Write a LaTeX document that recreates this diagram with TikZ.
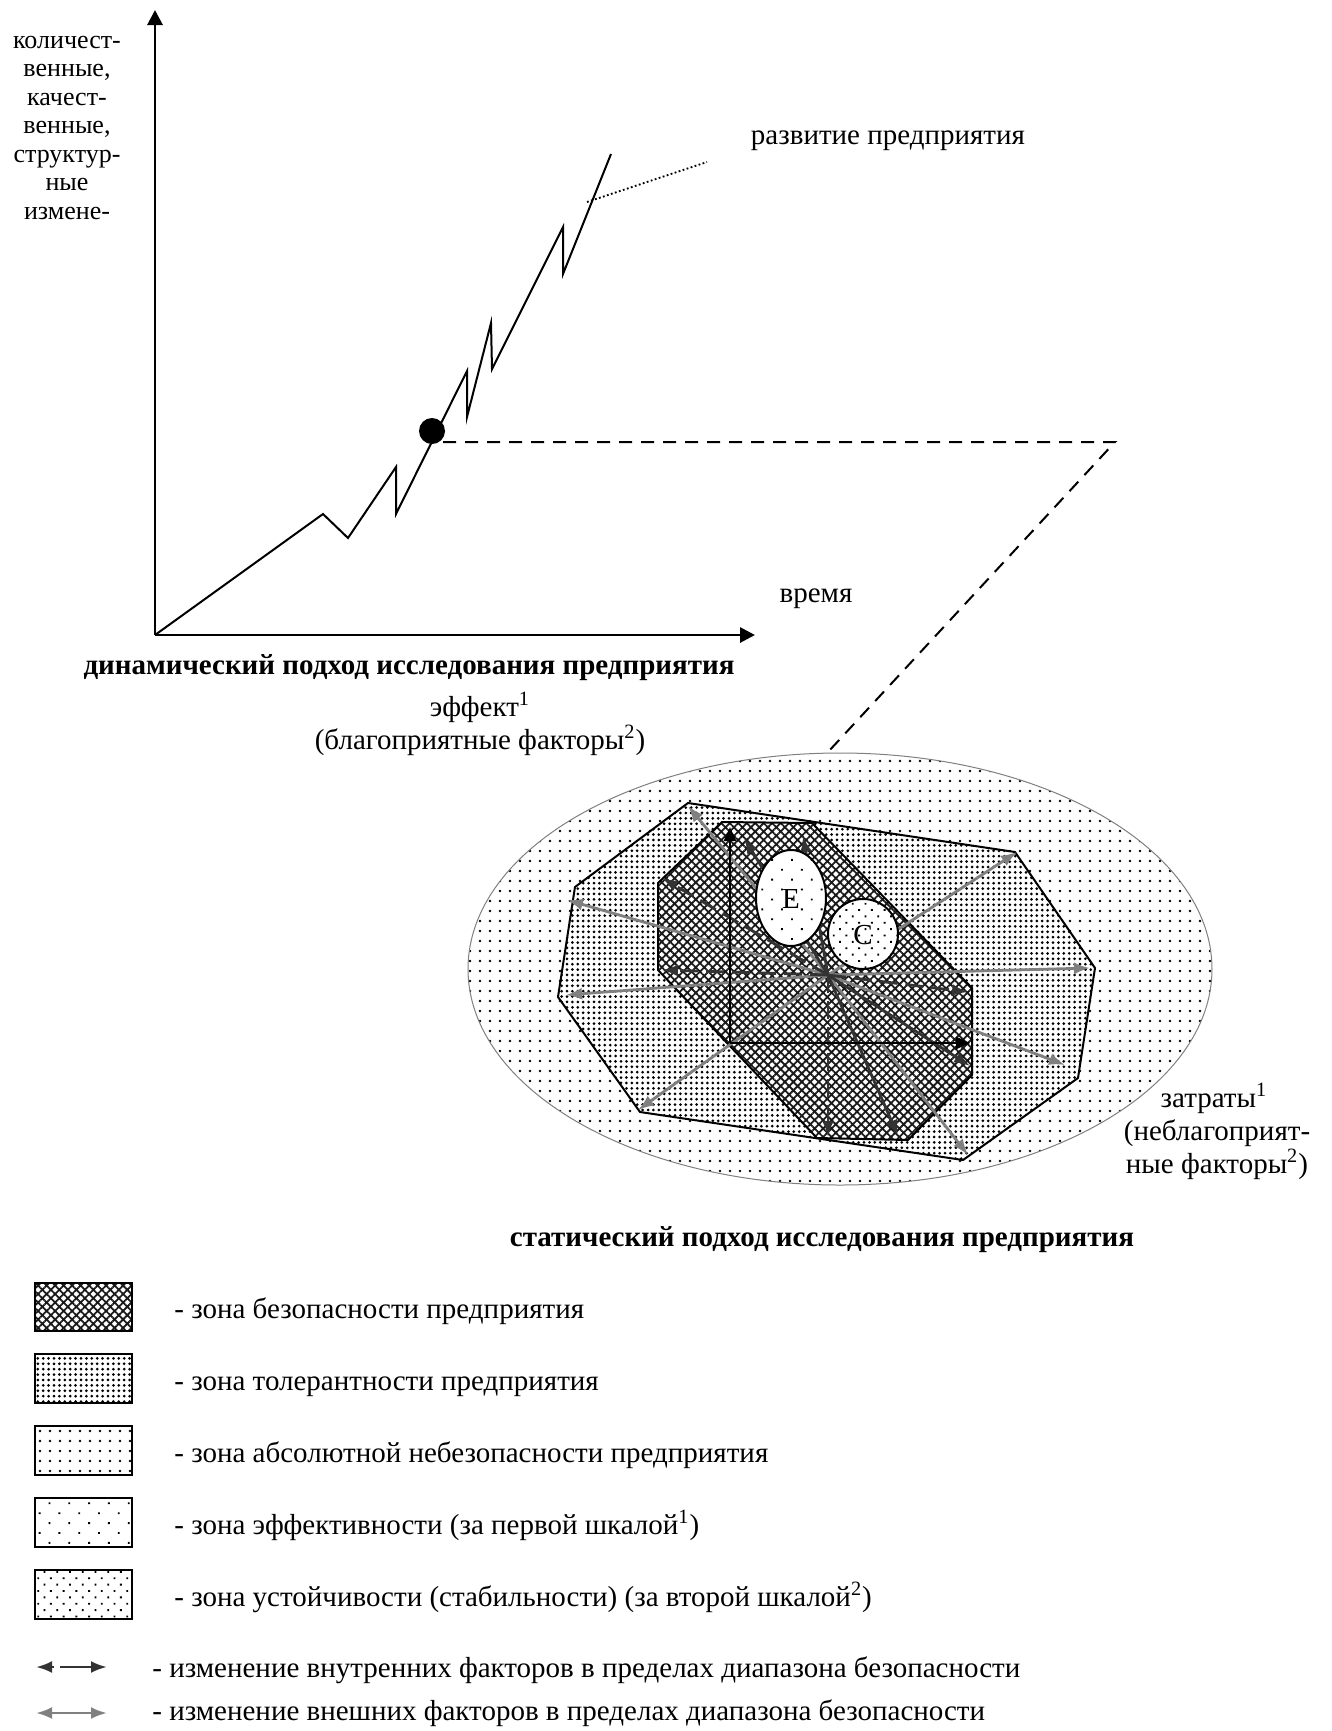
\documentclass[tikz,border=0pt]{standalone}
\usepackage{fontspec}
\setmainfont{Liberation Serif}
\usetikzlibrary{arrows.meta,patterns.meta}
\definecolor{darkarrow}{gray}{0.2}
\definecolor{grayarrow}{gray}{0.5}
\begin{document}
\begin{tikzpicture}[x=0.5pt,y=-0.5pt,
  lbl/.style={font=\fontsize{14.5}{16}\selectfont, inner sep=0pt, anchor=base},
  lblw/.style={font=\fontsize{14.5}{16}\selectfont, inner sep=0pt, anchor=base west},
  vlbl/.style={font=\fontsize{13}{14}\selectfont, inner sep=0pt, anchor=base},
  ttl/.style={font=\fontsize{14.5}{16}\selectfont\bfseries, inner sep=0pt, anchor=base},
  axisline/.style={line width=1.4pt, -{Triangle[length=7.5pt,width=7.5pt]}},
  curve/.style={line width=1pt, line join=miter},
  linkdash/.style={line width=1pt, dash pattern=on 6.5pt off 4.5pt},
  safezone/.style={preaction={fill=white}, pattern={Hatch[angle=45,distance=3pt,line width=0.9pt]}, pattern color=black!90},
  tolzone/.style={preaction={fill=white}, pattern={Dots[distance=2.7pt,radius=0.75pt]}, pattern color=black},
  abszone/.style={preaction={fill=white}, pattern={Dots[distance=5pt,radius=0.7pt]}, pattern color=black},
  effzone/.style={preaction={fill=white}, pattern={Dots[distance=7pt,radius=0.65pt,angle=45]}, pattern color=black},
  stabzone/.style={preaction={fill=white}, pattern={Dots[distance=4.5pt,radius=0.65pt,angle=45]}, pattern color=black},
  zoneedge/.style={draw=black, line width=1pt, line join=miter},
  grayarr/.style={draw=grayarrow, line width=1.4pt, -{Latex[length=8pt,width=6pt]}},
  darkarr/.style={draw=darkarrow, line width=1.4pt, -{Latex[length=8pt,width=6pt]}},
  darkdash/.style={darkarr, dash pattern=on 9pt off 4pt},
  innerax/.style={line width=1.3pt, -{Triangle[length=7pt,width=6pt]}},
  legbox/.style={draw=black, line width=1.1pt}
]
\fill[white] (0,0) rectangle (1332,1731);
\useasboundingbox (0,0) rectangle (1332,1731);

% ---------------- dynamic chart ----------------
\coordinate (O) at (155,635);
\coordinate (Ytip) at (155,10);
\coordinate (Xtip) at (755,635);
\draw[axisline] (O) -- (Ytip);
\draw[axisline] (O) -- (Xtip);

\coordinate (p1) at (323,514);
\coordinate (v1) at (348,538);
\coordinate (p2) at (396,467);
\coordinate (v2) at (396,514);
\coordinate (p3) at (467,371);
\coordinate (v3) at (467,417);
\coordinate (p4) at (491,323);
\coordinate (v4) at (492,369);
\coordinate (p5) at (563,227);
\coordinate (v5) at (563,274);
\coordinate (pend) at (611,154);
\draw[curve] (O) -- (p1) -- (v1) -- (p2) -- (v2) -- (p3) -- (v3) -- (p4) -- (v4) -- (p5) -- (v5) -- (pend);

\node[circle, fill=black, minimum size=13pt, inner sep=0pt] (dot) at (432,431) {};

\coordinate (dotA) at (587,202);
\coordinate (dotB) at (707,162);
\draw[line width=0.9pt, dash pattern=on 0.9pt off 1.2pt] (dotA) -- (dotB);

\node[lbl] (dev) at (888,144) {развитие предприятия};
\node[lbl] (time) at (816,602) {время};

\node[vlbl] (y1) at (67,48) {количест-};
\node[vlbl] (y2) at (67,76.5) {венные,};
\node[vlbl] (y3) at (67,105) {качест-};
\node[vlbl] (y4) at (67,133.5) {венные,};
\node[vlbl] (y5) at (67,162) {структур-};
\node[vlbl] (y6) at (67,190.5) {ные};
\node[vlbl] (y7) at (67,219) {измене-};

\node[ttl] (dyn) at (409,674) {динамический подход исследования предприятия};

% link from dot to static diagram
\coordinate (lk1) at (443,442);
\coordinate (lk2) at (1115,442);
\coordinate (lk3) at (828,752);
\draw[linkdash] (lk1) -- (lk2) -- (lk3);

\node[lbl] (eff1) at (480,716) {эффект\textsuperscript{1}};
\node[lbl] (eff2) at (480,749) {(благоприятные факторы\textsuperscript{2})};

% ---------------- static diagram ----------------
\path[abszone] (840,969) ellipse [x radius=372, y radius=216];
\draw[grayarrow, line width=0.5pt] (840,969) ellipse [x radius=372, y radius=216];

\path[tolzone] (688,803) -- (575,887) -- (558,997) -- (640,1112) -- (963,1160) -- (1078,1078) -- (1095,968) -- (1015,852) -- cycle;
\draw[zoneedge] (688,803) -- (575,887) -- (558,997) -- (640,1112) -- (963,1160) -- (1078,1078) -- (1095,968) -- (1015,852) -- cycle;

\path[safezone] (722,822) -- (812,823) -- (972,988) -- (972,1075) -- (908,1140) -- (817,1138) -- (658,970) -- (658,883) -- cycle;
\draw[zoneedge] (722,822) -- (812,823) -- (972,988) -- (972,1075) -- (908,1140) -- (817,1138) -- (658,970) -- (658,883) -- cycle;

\coordinate (hub) at (828,975);
% external factors
\coordinate (g1) at (688,806);
\coordinate (g2) at (567,900);
\coordinate (g3) at (566,995);
\coordinate (g4) at (638,1110);
\coordinate (g5) at (1017,852);
\coordinate (g6) at (1090,968);
\coordinate (g7) at (1065,1065);
\coordinate (g8) at (968,1155);
\foreach \g in {g1,g2,g3,g4,g5,g6,g7,g8} \draw[grayarr] (hub) -- (\g);
% internal factors
\coordinate (d1) at (662,970);
\coordinate (d2) at (968,992);
\coordinate (d3) at (828,1137);
\coordinate (d4) at (898,1136);
\coordinate (d5) at (970,1066);
\coordinate (d6) at (662,878);
\coordinate (d7) at (803,836);
\coordinate (d8) at (744,838);
\draw[darkdash] (hub) -- (d1);
\draw[darkdash] (hub) -- (d2);
\draw[darkdash] (hub) -- (d3);
\draw[darkarr] (hub) -- (d4);
\draw[darkarr] (hub) -- (d5);
\draw[darkdash] (hub) -- (d6);
\draw[darkarr] (hub) -- (d7);
\draw[darkarr] (hub) -- (d8);

% inner axes
\coordinate (ia) at (730,1043);
\coordinate (iy) at (730,827);
\coordinate (ix) at (970,1043);
\draw[innerax] (ia) -- (iy);
\draw[innerax] (ia) -- (ix);

% E and C
\path[effzone] (791,898) ellipse [x radius=35, y radius=48];
\draw[line width=1pt] (791,898) ellipse [x radius=35, y radius=48];
\node[lbl] (E) at (791,908) {E};
\path[stabzone] (863,934) circle [radius=35];
\draw[line width=1pt] (863,934) circle [radius=35];
\node[lbl] (C) at (863,944) {C};

\node[lbl] (cost1) at (1214,1107) {затраты\textsuperscript{1}};
\node[lbl] (cost2) at (1217,1140) {(неблагоприят-};
\node[lbl] (cost3) at (1217,1173) {ные факторы\textsuperscript{2})};

\node[ttl] (stat) at (822,1246) {статический подход исследования предприятия};

% ---------------- legend ----------------
\path[safezone] (35,1283) rectangle (132,1331);
\draw[legbox] (35,1283) rectangle (132,1331);
\path[tolzone] (35,1354) rectangle (132,1403);
\draw[legbox] (35,1354) rectangle (132,1403);
\path[abszone] (35,1426) rectangle (132,1475);
\draw[legbox] (35,1426) rectangle (132,1475);
\path[effzone] (35,1498) rectangle (132,1547);
\draw[legbox] (35,1498) rectangle (132,1547);
\path[stabzone] (35,1570) rectangle (132,1619);
\draw[legbox] (35,1570) rectangle (132,1619);

\node[lblw] (l1) at (174,1318) {- зона безопасности предприятия};
\node[lblw] (l2) at (174,1390) {- зона толерантности предприятия};
\node[lblw] (l3) at (174,1462) {- зона абсолютной небезопасности предприятия};
\node[lblw] (l4) at (174,1534) {- зона эффективности (за первой шкалой\textsuperscript{1})};
\node[lblw] (l5) at (174,1606) {- зона устойчивости (стабильности) (за второй шкалой\textsuperscript{2})};

\coordinate (a1l) at (36,1667);
\coordinate (a1m) at (54,1667);
\coordinate (a1s) at (60,1667);
\coordinate (a1r) at (107,1667);
\draw[darkarr, -{Latex[length=8pt,width=6pt]}] (a1m) -- (a1l);
\draw[darkarr, -{Latex[length=8pt,width=6pt]}] (a1s) -- (a1r);
\coordinate (a2l) at (36,1713);
\coordinate (a2r) at (107,1713);
\draw[grayarr, {Latex[length=8pt,width=6pt]}-{Latex[length=8pt,width=6pt]}] (a2l) -- (a2r);

\node[lblw] (l6) at (152,1677) {- изменение внутренних факторов в пределах диапазона безопасности};
\node[lblw] (l7) at (152,1720) {- изменение внешних факторов в пределах диапазона безопасности};
\end{tikzpicture}
\end{document}
